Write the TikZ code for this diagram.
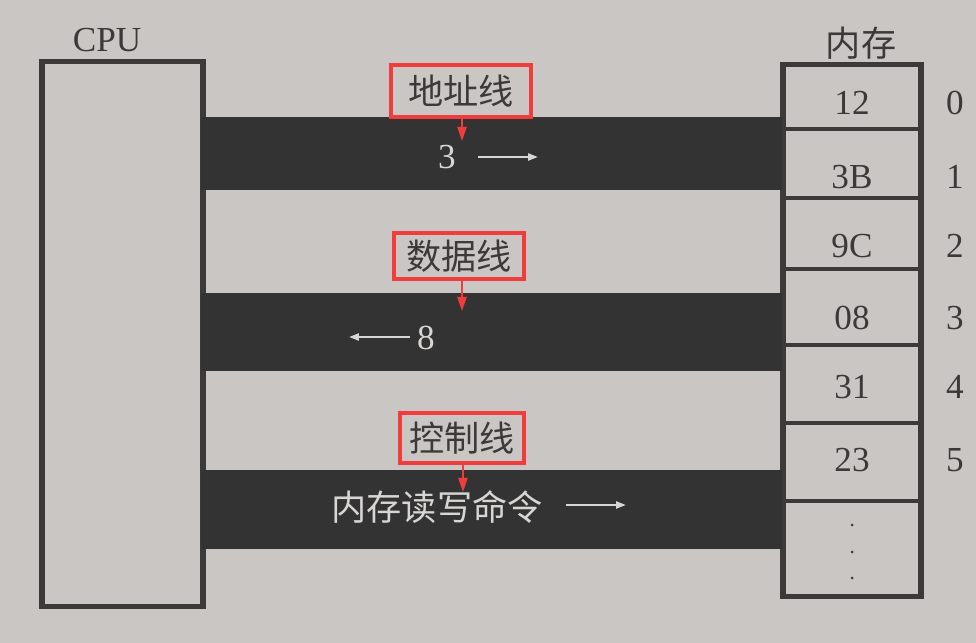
\documentclass[tikz,border=0pt]{standalone}
\usepackage{fontspec}
\setmainfont{Liberation Serif}
\newfontfamily\cjk{Noto Sans CJK SC}
\usepackage{xcolor}
\usetikzlibrary{backgrounds}
\usetikzlibrary{arrows.meta}
\usetikzlibrary{calc}
\definecolor{pagegray}{HTML}{CAC6C3}
\definecolor{busgray}{HTML}{343333}
\definecolor{inkgray}{HTML}{3C3A39}
\definecolor{chalk}{HTML}{D8D6D4}
\definecolor{markred}{HTML}{F03C3C}
\newcommand{\bigfont}{\fontsize{25}{28}\selectfont}
\newcommand{\busxl}{201}
\newcommand{\busxr}{782}
\newcommand{\memxc}{852}
\newcommand{\idxx}{955}
\tikzset{
  unitbox/.style={draw=inkgray, line width=3.6pt, fill=pagegray},
  cellline/.style={draw=inkgray, line width=2.4pt},
  bus/.style={fill=busgray},
  busarrow/.style={draw=chalk, line width=1.4pt,
    -{Triangle[length=7pt,width=5pt]}},
  tag/.style={draw=markred, line width=2.2pt, inner sep=0pt, text=inkgray},
  tagarrow/.style={draw=markred, line width=1.4pt,
    -{Triangle[length=10pt,width=6.5pt]}},
  ink/.style={text=inkgray, inner sep=0pt},
  onbus/.style={text=chalk, inner sep=0pt}
}

\begin{document}
\begin{tikzpicture}[x=0.025cm,y=-0.025cm,font=\bigfont]
    \begin{scope}[on background layer]
      \fill[pagegray] (0,0) rectangle (976,643);
    \end{scope}

    \node[unitbox, minimum width=4.025cm, minimum height=13.6cm]
      (cpu) at (122.5,334) {};
    \node[ink] (cpulabel) at (107,40) {CPU};

    \node[unitbox, minimum width=3.45cm, minimum height=13.275cm]
      (mem) at (\memxc,330.5) {};
    \node[ink] (memlabel) at (861,43) {\cjk 内存};
    \foreach \y in {129,198,269,345,423,501}
      \draw[cellline] (mem.west |- 0,\y) -- (mem.east |- 0,\y);
    \foreach \i/\v/\y in {0/12/103,1/3B/177,2/9C/246,3/08/318,4/31/387,5/23/460} {
      \node[ink] (cell\i) at (\memxc,\y) {\v};
      \node[ink] (idx\i) at (\idxx,\y) {\i};
    }
    \foreach \y in {525,552,578}
      \fill[inkgray] (\memxc,\y) circle (1.5);

    \fill[bus] (\busxl,117) rectangle (\busxr,190);
    \fill[bus] (\busxl,293) rectangle (\busxr,371);
    \fill[bus] (\busxl,470) rectangle (\busxr,549);

    \node[onbus] (addrval) at (447,157) {3};
    \coordinate (addrs) at (478,157);
    \coordinate (addre) at (538,157);
    \draw[busarrow] (addrs) -- (addre);

    \node[onbus] (dataval) at (426,338) {8};
    \coordinate (datas) at (410,337);
    \coordinate (datae) at (349,337);
    \draw[busarrow] (datas) -- (datae);

    \node[onbus] (ctrlval) at (437,507) {\cjk 内存读写命令};
    \coordinate (ctrls) at (566,505);
    \coordinate (ctrle) at (626,505);
    \draw[busarrow] (ctrls) -- (ctrle);

    \node[tag, minimum width=3.5cm, minimum height=1.3cm]
      (addrtag) at (461,91) {\cjk 地址线};
    \coordinate (addrhit) at (462,141);
    \draw[tagarrow] (addrtag.south -| addrhit) -- (addrhit);

    \node[tag, minimum width=3.25cm, minimum height=1.15cm]
      (datatag) at (459,256) {\cjk 数据线};
    \coordinate (datahit) at (462,311);
    \draw[tagarrow] (datatag.south -| datahit) -- (datahit);

    \node[tag, minimum width=3.1cm, minimum height=1.25cm]
      (ctrltag) at (462,438) {\cjk 控制线};
    \coordinate (ctrlhit) at (463,492);
    \draw[tagarrow] (ctrltag.south -| ctrlhit) -- (ctrlhit);
  \end{tikzpicture}
\end{document}
